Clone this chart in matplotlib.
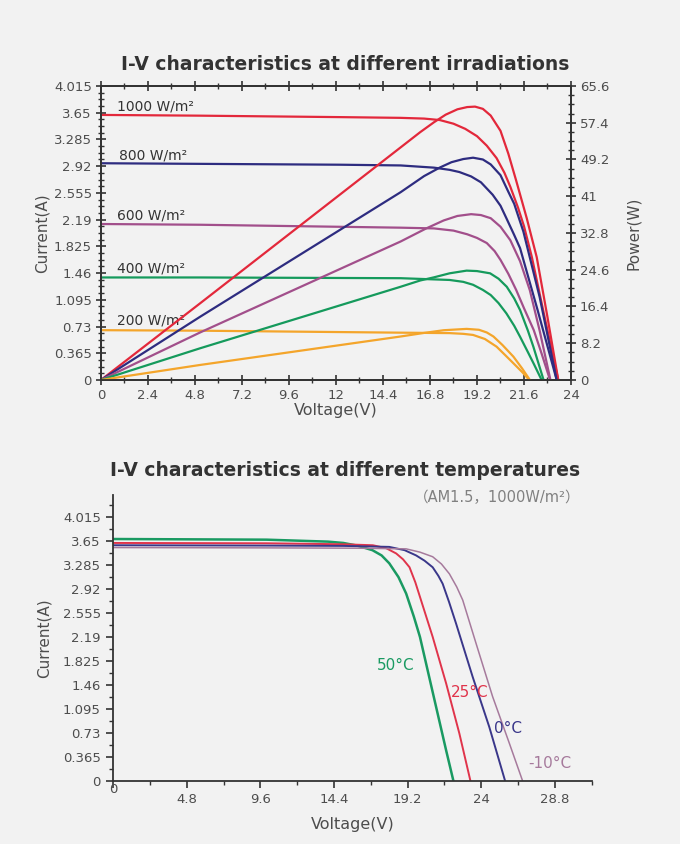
import matplotlib.pyplot as plt

plt.rcParams['font.family'] = ['DejaVu Sans']

# ---- top chart: I-V and P-V at different irradiations ----
irr_labels = ["1000 W/m²", "800 W/m²", "600 W/m²", "400 W/m²", "200 W/m²"]
irr_colors = ["#e3283b", "#2e2c80", "#a24f8b", "#159a5c", "#f4a52b"]
irr_label_pos = [(0.82, 3.74), (0.92, 3.07), (0.82, 2.24), (0.82, 1.52), (0.82, 0.81)]

iv_1000_v = [0, 5, 12.2, 15.3, 16.5, 17.3, 18.0, 18.6, 19.2, 19.7, 20.2, 20.6, 20.9, 21.3,
             21.6, 22.0, 22.5, 23.0, 23.35]
iv_1000_i = [3.62, 3.61, 3.59, 3.58, 3.57, 3.55, 3.50, 3.43, 3.33, 3.20, 3.03, 2.83, 2.64,
             2.35, 2.10, 1.68, 1.05, 0.43, 0]
iv_800_v = [0, 12.2, 15.3, 17.0, 17.8, 18.3, 18.9, 19.4, 20.0, 20.4, 20.7, 21.1, 21.4,
            22.3, 23.27]
iv_800_i = [2.96, 2.94, 2.93, 2.90, 2.87, 2.84, 2.78, 2.70, 2.53, 2.38, 2.21, 1.98, 1.80,
            0.95, 0]
iv_600_v = [0, 5.06, 15.3, 17.0, 18.0, 18.7, 19.2, 19.7, 20.1, 20.4, 20.8, 21.2, 21.6,
            22.1, 22.5, 22.93]
iv_600_i = [2.13, 2.12, 2.08, 2.07, 2.04, 1.99, 1.94, 1.87, 1.76, 1.64, 1.45, 1.23, 0.98,
            0.68, 0.36, 0]
iv_400_v = [0, 5.06, 15.3, 17.8, 18.5, 19.0, 19.5, 19.9, 20.3, 20.7, 21.1, 21.4, 21.8,
            22.1, 22.5]
iv_400_i = [1.40, 1.40, 1.39, 1.366, 1.34, 1.30, 1.23, 1.16, 1.05, 0.91, 0.74, 0.59, 0.38,
            0.22, 0]
iv_200_v = [0, 5.06, 15.3, 17.8, 18.5, 19.0, 19.6, 20.2, 20.6, 21.06, 21.5, 21.87]
iv_200_i = [0.68, 0.673, 0.646, 0.64, 0.63, 0.615, 0.56, 0.455, 0.35, 0.228, 0.11, 0]

pv_1000_v = [0, 5.06, 15.3, 16.3, 17.0, 17.6, 18.2, 18.7, 19.1, 19.5, 19.9, 20.4, 20.8,
             21.2, 21.74, 22.25, 22.8, 23.35]
pv_1000_p = [0, 17.1, 51.9, 55.3, 57.5, 59.2, 60.4, 60.9, 61.0, 60.5, 59.0, 55.6, 50.5,
             44.5, 36.1, 27.4, 14.0, 0]
pv_800_v = [0, 5.06, 15.3, 16.5, 17.3, 17.9, 18.5, 19.0, 19.5, 19.9, 20.4, 20.8, 21.1,
            21.57, 22.4, 23.27]
pv_800_p = [0, 14.1, 41.9, 45.5, 47.4, 48.6, 49.3, 49.6, 49.2, 48.1, 45.7, 42.0, 39.3,
            33.1, 18.5, 0]
pv_600_v = [0, 5.06, 15.3, 16.6, 17.5, 18.2, 18.9, 19.4, 19.9, 20.4, 20.9, 21.4, 21.9,
            22.4, 22.95]
pv_600_p = [0, 10.6, 30.9, 33.8, 35.6, 36.6, 37.0, 36.8, 36.1, 34.2, 31.2, 26.5, 20.0,
            11.0, 0]
pv_400_v = [0, 5.06, 15.3, 16.3, 17.0, 17.8, 18.67, 19.2, 19.87, 20.3, 20.72, 21.1, 21.4,
            21.8, 22.08, 22.6]
pv_400_p = [0, 7.07, 20.8, 22.2, 22.9, 23.8, 24.4, 24.3, 23.8, 22.6, 20.8, 18.2, 15.6,
            11.0, 7.4, 0]
pv_200_v = [0, 5.06, 15.3, 16.5, 17.5, 18.67, 19.3, 19.7, 20.04, 20.5, 21.06, 21.5, 21.9]
pv_200_p = [0, 3.35, 9.7, 10.5, 11.1, 11.4, 11.2, 10.6, 9.7, 7.8, 5.2, 2.6, 0]

iv_v = [iv_1000_v, iv_800_v, iv_600_v, iv_400_v, iv_200_v]
iv_i = [iv_1000_i, iv_800_i, iv_600_i, iv_400_i, iv_200_i]
pv_v = [pv_1000_v, pv_800_v, pv_600_v, pv_400_v, pv_200_v]
pv_p = [pv_1000_p, pv_800_p, pv_600_p, pv_400_p, pv_200_p]

top_xticks = [0, 2.4, 4.8, 7.2, 9.6, 12, 14.4, 16.8, 19.2, 21.6, 24]
top_xlabels = ["0", "2.4", "4.8", "7.2", "9.6", "12", "14.4", "16.8", "19.2", "21.6", "24"]
cur_ticks = [0, 0.365, 0.73, 1.095, 1.46, 1.825, 2.19, 2.555, 2.92, 3.285, 3.65, 4.015]
cur_labels = ["0", "0.365", "0.73", "1.095", "1.46", "1.825", "2.19", "2.555", "2.92",
              "3.285", "3.65", "4.015"]
pow_ticks = [0, 8.2, 16.4, 24.6, 32.8, 41, 49.2, 57.4, 65.6]
pow_labels = ["0", "8.2", "16.4", "24.6", "32.8", "41", "49.2", "57.4", "65.6"]

# ---- bottom chart: I-V at different temperatures ----
temp_labels = ["50°C", "25°C", "0°C", "-10°C"]
temp_colors = ["#1a9a62", "#e0344b", "#3a378a", "#a67a9c"]
temp_widths = [1.8, 1.4, 1.4, 1.1]
temp_label_pos = [(18.45, 1.76), (23.22, 1.35), (25.72, 0.80), (28.45, 0.26)]

t50_v = [0, 10, 14.0, 15.0, 15.9, 16.9, 17.5, 18.0, 18.6, 19.1, 19.6, 20.0, 20.8, 21.7, 22.18]
t50_i = [3.68, 3.67, 3.64, 3.62, 3.58, 3.51, 3.43, 3.31, 3.10, 2.85, 2.50, 2.19, 1.38, 0.47, 0]
t25_v = [0, 10, 15.0, 16.93, 17.8, 18.45, 18.9, 19.32, 19.7, 20.0, 20.83, 21.71, 22.57, 23.29]
t25_i = [3.62, 3.615, 3.60, 3.585, 3.54, 3.46, 3.37, 3.25, 3.02, 2.80, 2.19, 1.48, 0.72, 0]
t0_v = [0, 10, 15.0, 18.0, 19.0, 19.75, 20.3, 20.83, 21.2, 21.48, 21.9, 22.36, 23.44, 24.52,
        25.55]
t0_i = [3.585, 3.58, 3.575, 3.56, 3.51, 3.43, 3.35, 3.25, 3.12, 3.0, 2.72, 2.39, 1.58, 0.82, 0]
tm10_v = [0, 10, 16.0, 19.1, 20.0, 20.83, 21.4, 21.92, 22.4, 22.79, 23.66, 24.74, 25.83, 26.69]
tm10_i = [3.55, 3.545, 3.54, 3.53, 3.48, 3.41, 3.30, 3.15, 2.95, 2.75, 2.09, 1.28, 0.57, 0]

temp_v = [t50_v, t25_v, t0_v, tm10_v]
temp_i = [t50_i, t25_i, t0_i, tm10_i]

bot_xticks = [0, 4.8, 9.6, 14.4, 19.2, 24, 28.8]
bot_xlabels = ["0", "4.8", "9.6", "14.4", "19.2", "24", "28.8"]

bg = "#f2f2f2"
txt = "#333333"
tick_c = "#4d4d4d"

fig = plt.figure(figsize=(6.8, 8.44), dpi=100)
fig.patch.set_facecolor(bg)

# Graph 1 ------------------------------
ax = fig.add_axes([0.1485, 0.5498, 0.6912, 0.3483])
ax.set_facecolor(bg)
for v, i, c in zip(iv_v, iv_i, irr_colors):
    ax.plot(v, i, color=c, lw=1.6, solid_joinstyle='round')
for (x, y), lab in zip(irr_label_pos, irr_labels):
    ax.text(x, y, lab, fontsize=10, color=txt, ha='left', va='center')

ax.set_xlim(0, 24)
ax.set_ylim(0, 4.015)
ax.set_xticks(top_xticks)
ax.set_xticklabels(top_xlabels)
ax.set_xticks([x + 1.2 for x in top_xticks[:-1]], minor=True)
ax.set_yticks(cur_ticks)
ax.set_yticklabels(cur_labels)
ax.set_yticks([y + k * 0.09125 for y in cur_ticks[:-1] for k in (1, 2, 3)], minor=True)
ax.tick_params(which='major', direction='inout', length=7, width=1.2, color=txt,
               labelsize=9.5, labelcolor=tick_c, top=True, pad=3)
ax.tick_params(which='minor', direction='inout', length=4, width=1.0, color=txt, top=True)
for s in ax.spines.values():
    s.set_color(txt)
    s.set_linewidth(1.3)
ax.set_xlabel("Voltage(V)", fontsize=11.5, color=tick_c, labelpad=1)
ax.set_ylabel("Current(A)", fontsize=11, color=tick_c, labelpad=3)

ax2 = ax.twinx()
for v, p, c in zip(pv_v, pv_p, irr_colors):
    ax2.plot(v, p, color=c, lw=1.6, solid_joinstyle='round')
ax2.set_ylim(0, 65.6)
ax2.set_yticks(pow_ticks)
ax2.set_yticklabels(pow_labels)
ax2.set_yticks([y + k * 2.05 for y in pow_ticks[:-1] for k in (1, 2, 3)], minor=True)
ax2.tick_params(which='major', direction='inout', length=7, width=1.2, color=txt,
                labelsize=9.5, labelcolor=tick_c, pad=3)
ax2.tick_params(which='minor', direction='inout', length=4, width=1.0, color=txt)
for s in ax2.spines.values():
    s.set_color(txt)
    s.set_linewidth(1.3)
ax2.set_ylabel("Power(W)", fontsize=11, color=tick_c, labelpad=12)

fig.text(0.507, 0.924, "I-V characteristics at different irradiations", fontsize=13.5,
         fontweight='bold', color=txt, ha='center', va='center')

# Graph 2 ------------------------------
bx = fig.add_axes([0.1666, 0.075, 0.7035, 0.3385])
bx.set_facecolor(bg)
for v, i, c, w in zip(temp_v, temp_i, temp_colors, temp_widths):
    bx.plot(v, i, color=c, lw=w, solid_joinstyle='round')
for (x, y), lab, c in zip(temp_label_pos, temp_labels, temp_colors):
    bx.text(x, y, lab, fontsize=11, color=c, ha='center', va='center')

bx.set_xlim(0, 31.15)
bx.set_ylim(0, 4.35)
bx.set_xticks(bot_xticks)
bx.set_xticklabels(bot_xlabels)
bx.set_xticks([x + 2.4 for x in bot_xticks], minor=True)
bx.set_yticks(cur_ticks)
bx.set_yticklabels(cur_labels)
bx.set_yticks([y + 0.1825 for y in cur_ticks], minor=True)
bx.tick_params(which='major', direction='out', length=5, width=1.2, color=txt,
               labelsize=9.5, labelcolor=tick_c, pad=4)
bx.tick_params(which='minor', direction='out', length=3, width=1.0, color=txt)
bx.spines['top'].set_visible(False)
bx.spines['right'].set_visible(False)
for s in ('left', 'bottom'):
    bx.spines[s].set_color(txt)
    bx.spines[s].set_linewidth(1.3)
bx.set_xlabel("Voltage(V)", fontsize=11.5, color=tick_c, labelpad=8)
bx.set_ylabel("Current(A)", fontsize=11, color=tick_c, labelpad=8)
# the "0" under the origin sits a little higher than the other labels
bx.xaxis.get_major_ticks()[0].label1.set_y(0.035)

fig.text(0.508, 0.443, "I-V characteristics at different temperatures", fontsize=13.5,
         fontweight='bold', color=txt, ha='center', va='center')
fig.text(0.853, 0.411, "（AM1.5，1000W/m²）", fontsize=10.5, color="#808080",
         ha='right', va='center', family=['DejaVu Sans', 'Noto Sans CJK SC'])

fig.savefig("out.png", dpi=100, facecolor=bg)
